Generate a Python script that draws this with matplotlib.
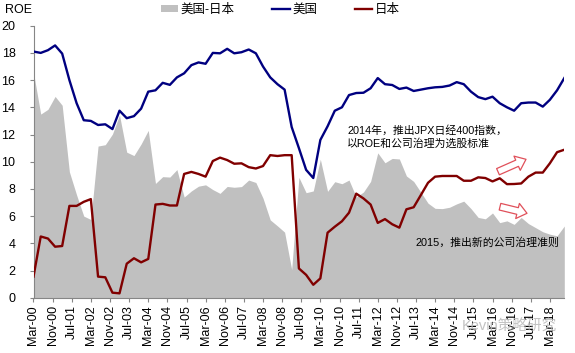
import numpy as np
import pandas as pd
import matplotlib
matplotlib.use('Agg')
import matplotlib.pyplot as plt
from matplotlib.patches import Patch
from matplotlib.lines import Line2D

plt.rcParams['font.family'] = ['Liberation Sans', 'Noto Sans CJK SC', 'DejaVu Sans']

# ---------------- data ----------------
quarters = pd.date_range('2000-03-01', periods=75, freq='3MS')

us_roe = [18.1, 18.0, 18.2, 18.55, 17.95, 16.0, 14.3, 13.05, 13.0, 12.7,
          12.75, 12.4, 13.75, 13.2, 13.35, 13.9, 15.15, 15.25, 15.8, 15.65,
          16.2, 16.5, 17.1, 17.3, 17.2, 18.0, 17.97, 18.3, 17.97, 18.05,
          18.25, 17.97, 17.0, 16.2, 15.7, 15.3, 12.55, 11.0, 9.4, 8.8,
          11.6, 12.6, 13.75, 14.0, 14.9, 15.05, 15.07, 15.4, 16.15, 15.7,
          15.64, 15.35, 15.45, 15.2, 15.3, 15.4, 15.47, 15.5, 15.6, 15.85,
          15.7, 15.15, 14.75, 14.6, 14.78, 14.3, 14.0, 13.75, 14.3, 14.35,
          14.35, 14.05, 14.55, 15.25, 16.15]

jp_roe = [1.55, 4.5, 4.35, 3.75, 3.8, 6.75, 6.75, 7.05, 7.25, 1.55,
          1.5, 0.37, 0.32, 2.5, 2.9, 2.6, 2.85, 6.85, 6.9, 6.78,
          6.78, 9.1, 9.25, 9.1, 8.9, 10.05, 10.3, 10.12, 9.85, 9.88,
          9.6, 9.5, 9.68, 10.48, 10.42, 10.48, 10.48, 2.15, 1.68, 0.95,
          1.42, 4.78, 5.22, 5.62, 6.25, 7.65, 7.3, 6.85, 5.5, 5.78,
          5.4, 5.15, 6.5, 6.65, 7.55, 8.45, 8.9, 8.95, 8.95, 8.95,
          8.6, 8.6, 8.85, 8.8, 8.55, 8.78, 8.35, 8.36, 8.4, 8.9,
          9.2, 9.2, 9.88, 10.7, 10.88]

tick_labels = ['Mar-00', 'Nov-00', 'Jul-01', 'Mar-02', 'Nov-02', 'Jul-03',
               'Mar-04', 'Nov-04', 'Jul-05', 'Mar-06', 'Nov-06', 'Jul-07',
               'Mar-08', 'Nov-08', 'Jul-09', 'Mar-10', 'Nov-10', 'Jul-11',
               'Mar-12', 'Nov-12', 'Jul-13', 'Mar-14', 'Nov-14', 'Jul-15',
               'Mar-16', 'Nov-16', 'Jul-17', 'Mar-18']
y_ticks = [0, 2, 4, 6, 8, 10, 12, 14, 16, 18, 20]
legend_labels = ['美国-日本', '美国', '日本']

us = np.array(us_roe)
jp = np.array(jp_roe)
gap = us - jp  # series "美国-日本"

# ---------------- styles ----------------
GRAY = '#C0C0C0'
NAVY = '#000080'
MAROON = '#800000'
AXIS = '#868686'
ARROW = '#E0505A'

W, H = 575, 353
fig = plt.figure(figsize=(W / 100, H / 100), dpi=100)
ax = fig.add_axes([33.5 / W, 1 - 297.7 / H, (564.3 - 33.5) / W, (297.7 - 25.7) / H])

ax.fill_between(quarters, 0, gap, color=GRAY, lw=0, zorder=1)
ax.plot(quarters, us, color=NAVY, lw=1.7, zorder=3, solid_joinstyle='round')
ax.plot(quarters, jp, color=MAROON, lw=1.7, zorder=3, solid_joinstyle='round')

ax.set_xlim(quarters[0], quarters[-1])
ax.set_ylim(0, 20)
ax.set_yticks(y_ticks)
ax.set_yticklabels([str(v) for v in y_ticks], fontsize=9)
tick_pos = pd.to_datetime(tick_labels, format='%b-%y')
ax.set_xticks(tick_pos)
ax.set_xticklabels(tick_labels, rotation=90, fontsize=9)
ax.tick_params(axis='y', length=3, width=0.8, color=AXIS, pad=10)
ax.tick_params(axis='x', length=3, width=0.8, color=AXIS, pad=2.5)
for s in ['top', 'right']:
    ax.spines[s].set_visible(False)
for s in ['left', 'bottom']:
    ax.spines[s].set_color(AXIS)
    ax.spines[s].set_linewidth(0.8)

# ROE label
fig.text(5 / W, 1 - 10 / H, 'ROE', fontsize=9, va='center', ha='left')

# legend
handles = [Patch(facecolor=GRAY, edgecolor='none'),
           Line2D([], [], color=NAVY, lw=1.7),
           Line2D([], [], color=MAROON, lw=1.7)]
fig.legend(handles, legend_labels, loc='center', bbox_to_anchor=(280 / W, 1 - 10 / H),
           ncol=3, frameon=False, fontsize=9, handlelength=1.4, handletextpad=0.2,
           columnspacing=3.0, borderpad=0, handleheight=0.5)

# annotations
fig.text(347 / W, 1 - 130 / H, '2014年，推出JPX日经400指数，', fontsize=7.8,
         va='center', ha='left')
fig.text(347 / W, 1 - 144 / H, '以ROE和公司治理为选股标准', fontsize=7.8,
         va='center', ha='left')
fig.text(415 / W, 1 - 243 / H, '2015，推出新的公司治理准则', fontsize=7.8,
         va='center', ha='left')

arrow_style = 'simple,head_length=0.5,head_width=0.8,tail_width=0.35'
for (x0, y0, x1, y1) in [(498, 171.7, 526, 159.3), (500, 206.7, 527, 213.3)]:
    ax.annotate('', xy=(x1 / W, 1 - y1 / H), xytext=(x0 / W, 1 - y0 / H),
                xycoords='figure fraction', textcoords='figure fraction',
                arrowprops=dict(arrowstyle=arrow_style, fc='white', ec=ARROW,
                                lw=0.9, shrinkA=0, shrinkB=0, mutation_scale=14),
                zorder=5)

# watermark
fig.text(557 / W, 1 - 327 / H, 'Kevin策略研究', fontsize=10.5, color='#b8b8b8',
         alpha=0.85, va='center', ha='right', zorder=10)

fig.savefig('out.png', dpi=100)
